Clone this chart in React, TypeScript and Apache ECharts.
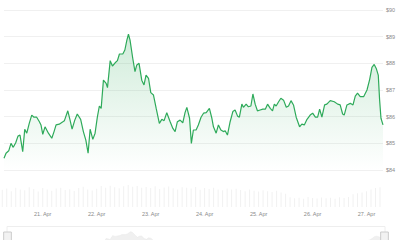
import React, { useEffect, useRef } from "react";
import * as echarts from "echarts";

// Hours since 2024-04-20 00:00 UTC
const hours = [
  7.0, 7.9, 9.1, 10.1, 11.1, 12.2, 13.2, 14.1, 15.3, 16.2, 17.1, 18.2, 19.3, 20.3, 21.5, 22.7, 23.4, 24.2, 25.2, 26.7,
  28.2, 29.2, 30.1, 31.5, 33.1, 33.8, 35.3, 36.3, 37.2, 38.4, 39.5, 41.0, 42.2, 43.3, 44.3, 45.2, 46.4, 47.4, 48.4, 49.3,
  50.1, 51.1, 52.3, 52.9, 54.1, 55.1, 56.3, 57.3, 58.2, 59.7, 60.6, 61.5, 62.2, 62.9, 64.1, 65.1, 65.9, 66.9, 68.1, 69.1,
  70.0, 71.1, 72.1, 73.3, 74.5, 75.9, 77.0, 78.0, 79.2, 80.7, 81.9, 82.9, 83.9, 85.1, 86.3, 87.3, 88.1, 89.3, 90.1, 91.0,
  92.2, 93.2, 94.4, 95.5, 96.7, 98.1, 99.2, 99.9, 101.1, 102.1, 103.2, 104.3, 105.1, 106.1, 107.3, 108.5, 109.5, 110.6, 111.4, 112.5,
  113.2, 114.4, 115.4, 116.5, 117.4, 118.4, 119.4, 120.6, 121.8, 122.9, 123.9, 125.1, 126.1, 126.9, 127.7, 128.8, 129.8, 131.0, 132.2, 133.2,
  134.3, 135.4, 136.6, 138.1, 139.1, 140.2, 141.4, 142.8, 143.9, 145.1, 146.1, 147.0, 148.0, 149.2, 150.2, 151.7, 153.5, 155.0, 156.1, 157.2,
  157.9, 159.1, 160.6, 161.8, 162.8, 163.8, 165.0, 166.5, 168.0, 169.2, 170.2, 171.2, 172.1, 173.0, 173.6, 174.2, 175.1,
];

const prices = [
  84.44, 84.63, 84.72, 85.0, 84.85, 85.02, 85.27, 85.31, 84.69, 85.53, 85.38, 85.75, 86.06, 85.98, 85.98, 85.81, 85.69, 85.34, 85.62, 85.38,
  85.19, 85.44, 85.69, 85.72, 85.81, 85.85, 86.22, 85.87, 85.53, 85.87, 86.1, 85.9, 85.44, 85.12, 84.63, 85.53, 85.15, 85.38, 85.98, 86.4,
  86.31, 87.37, 87.25, 87.09, 88.1, 87.9, 88.02, 88.1, 88.35, 88.35, 88.5, 88.87, 89.09, 88.87, 88.19, 87.69, 87.94, 88.0, 87.37, 87.19,
  87.56, 87.44, 86.9, 86.81, 86.31, 85.75, 85.9, 85.85, 86.15, 85.81, 85.56, 85.44, 85.81, 85.87, 85.77, 86.15, 86.35, 85.94, 85.0, 85.5,
  85.5, 85.69, 85.98, 86.13, 86.15, 86.31, 85.94, 85.62, 85.38, 85.69, 85.5, 85.44, 85.47, 85.31, 85.81, 86.19, 86.25, 86.02, 85.98, 86.47,
  86.35, 86.47, 86.37, 86.4, 86.85, 86.47, 86.22, 86.25, 86.28, 86.28, 86.47, 86.31, 86.22, 86.47, 86.4, 86.56, 86.69, 86.62, 86.35, 86.4,
  86.6, 86.44, 85.98, 85.62, 85.72, 85.69, 85.9, 86.06, 86.13, 85.98, 85.98, 86.28, 85.98, 86.44, 86.47, 86.6, 86.56, 86.47, 86.44, 86.1,
  86.06, 86.44, 86.5, 86.44, 86.77, 86.88, 86.75, 86.75, 87.0, 87.4, 87.85, 87.96, 87.81, 87.56, 86.62, 85.94, 85.69,
];

// Volume every 2 hours starting 2024-04-20 06:00 UTC
const volumeHours = [
  6, 8, 10, 12, 14, 16, 18, 20, 22, 24, 26, 28, 30, 32, 34, 36, 38, 40, 42, 44,
  46, 48, 50, 52, 54, 56, 58, 60, 62, 64, 66, 68, 70, 72, 74, 76, 78, 80, 82, 84,
  86, 88, 90, 92, 94, 96, 98, 100, 102, 104, 106, 108, 110, 112, 114, 116, 118, 120, 122, 124,
  126, 128, 130, 132, 134, 136, 138, 140, 142, 144, 146, 148, 150, 152, 154, 156, 158, 160, 162, 164,
  166, 168, 170, 172, 174,
];
const volumes = [
  78, 84, 72, 88, 80, 76, 90, 82, 70, 86, 79, 74, 84, 88, 77, 81, 73, 86, 92, 80,
  75, 83, 95, 88, 97, 90, 85, 94, 100, 92, 96, 88, 91, 86, 94, 82, 89, 93, 85, 80,
  90, 87, 84, 91, 78, 86, 82, 88, 80, 76, 84, 79, 83, 77, 72, 80, 74, 70, 76, 72,
  68, 74, 66, 60, 44, 40, 42, 38, 45, 41, 39, 43, 40, 42, 38, 44, 41, 46, 58, 62,
  66, 72, 80, 86, 90,
];

const yTicks = ["$84", "$85", "$86", "$87", "$88", "$89", "$90"];
const dayLabels = ["21. Apr", "22. Apr", "23. Apr", "24. Apr", "25. Apr", "26. Apr", "27. Apr"];

const BASE = Date.UTC(2024, 3, 20, 0, 0, 0);
const H = 3600 * 1000;
const DAY = 24 * H;

export default function App() {
  const ref = useRef<HTMLDivElement>(null);
  useEffect(() => {
    if (!ref.current) return;
    const chart = echarts.init(ref.current, undefined, { renderer: "svg" });
    const priceData = hours.map((h, i) => [BASE + h * H, prices[i]]);
    const volData = volumeHours.map((h, i) => [BASE + h * H, volumes[i]]);
    const xMin = BASE + hours[0] * H;
    const xMax = BASE + hours[hours.length - 1] * H;
    const font = "Liberation Sans, Arial, sans-serif";
    const labelFmt = (v: number) => {
      const idx = Math.round((v - BASE) / DAY) - 1;
      return dayLabels[idx] ?? "";
    };
    chart.setOption({
      animation: false,
      useUTC: true,
      backgroundColor: "#ffffff",
      grid: [
        { left: 4, right: 17, top: 10, height: 160 },
        { left: 4, right: 17, top: 185, height: 22 },
      ],
      xAxis: [
        {
          type: "time",
          gridIndex: 0,
          min: xMin,
          max: xMax,
          minInterval: DAY,
          maxInterval: DAY,
          axisLine: { show: false },
          axisTick: { show: false },
          axisLabel: { show: false },
          splitLine: { show: false },
        },
        {
          type: "time",
          gridIndex: 1,
          min: xMin,
          max: xMax,
          minInterval: DAY,
          maxInterval: DAY,
          axisLine: { show: false },
          axisTick: { show: false },
          splitLine: { show: false },
          axisLabel: {
            show: true,
            margin: 4,
            fontSize: 5.5,
            color: "#8a8a8a",
            fontFamily: font,
            showMinLabel: false,
            showMaxLabel: false,
            formatter: labelFmt,
            hideOverlap: false,
          },
        },
      ],
      yAxis: [
        {
          type: "value",
          gridIndex: 0,
          position: "right",
          min: 84,
          max: 90,
          interval: 1,
          axisLine: { show: false },
          axisTick: { show: false },
          splitLine: { lineStyle: { color: "#f0f0f0", width: 1 } },
          axisLabel: {
            margin: 3,
            fontSize: 5.5,
            color: "#8a8a8a",
            fontFamily: font,
            formatter: (v: number) => yTicks[Math.round(v - 84)] ?? "",
          },
        },
        {
          type: "value",
          gridIndex: 1,
          min: 0,
          max: 100,
          show: false,
        },
      ],
      dataZoom: [
        {
          type: "slider",
          xAxisIndex: [0, 1],
          start: 0,
          end: 100,
          left: 4,
          right: 17,
          top: 226,
          height: 30,
          showDetail: false,
          brushSelect: false,
          moveHandleSize: 0,
          borderColor: "#eeeeee",
          backgroundColor: "rgba(0,0,0,0)",
          fillerColor: "rgba(0,0,0,0)",
          handleIcon: "path://M0,0 L6,0 L6,14 L0,14 Z",
          handleSize: "60%",
          handleStyle: { color: "#f2f2f2", borderColor: "#cccccc" },
          dataBackground: {
            lineStyle: { color: "#e8e8e8", width: 0.5 },
            areaStyle: { color: "#f0f0f0", opacity: 1 },
          },
          selectedDataBackground: {
            lineStyle: { color: "#e8e8e8", width: 0.5 },
            areaStyle: { color: "#f0f0f0", opacity: 1 },
          },
          filterMode: "none",
        },
      ],
      series: [
        {
          type: "line",
          xAxisIndex: 0,
          yAxisIndex: 0,
          data: priceData,
          showSymbol: false,
          symbol: "none",
          lineStyle: { color: "#2eaa5a", width: 1.2 },
          areaStyle: {
            origin: "start",
            color: new echarts.graphic.LinearGradient(0, 0, 0, 1, [
              { offset: 0, color: "rgba(46,170,90,0.32)" },
              { offset: 1, color: "rgba(46,170,90,0.0)" },
            ]),
          },
        },
        {
          type: "bar",
          xAxisIndex: 1,
          yAxisIndex: 1,
          data: volData,
          barWidth: 1,
          itemStyle: { color: "#f1f1f1" },
        },
      ],
    });
    return () => chart.dispose();
  }, []);
  return <div ref={ref} style={{ width: 400, height: 240, position: "absolute", left: 0, top: 0 }} />;
}
